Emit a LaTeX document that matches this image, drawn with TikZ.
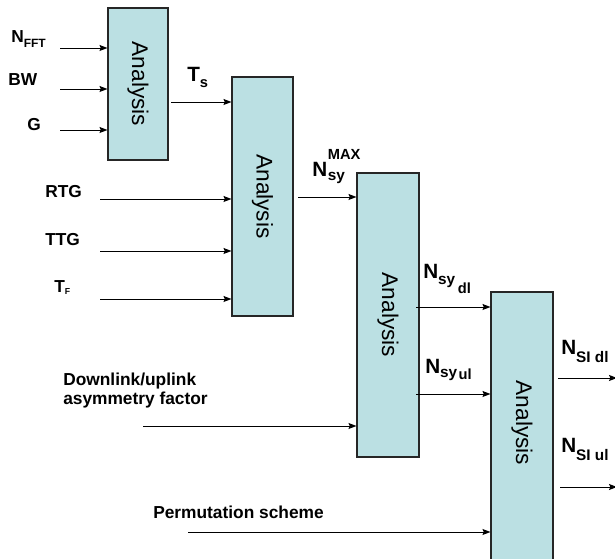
\documentclass[tikz,border=0pt]{standalone}
\usepackage{fontspec}
\setmainfont{Liberation Sans}
\usepackage{xcolor}
\usepackage{tikz}
\usetikzlibrary{arrows.meta, positioning}
\definecolor{boxblue}{RGB}{187,224,227}
\newcommand{\lowsub}[3]{\raisebox{-#1}{\fontsize{#2}{#2}\selectfont #3}}
\tikzstyle{block} = [draw=black!85, fill=boxblue, line width=0.8pt, inner sep=0pt]
\tikzstyle{analysis} = [font=\fontsize{17}{20}\selectfont, rotate=-90, inner sep=0pt]
\tikzstyle{arrow} = [line width=0.7pt, -{Stealth[length=6pt, width=4.5pt, inset=1pt]}]
\tikzstyle{inlbl} = [font=\fontsize{13}{14.25}\selectfont\bfseries, inner sep=0pt, anchor=base west]
\tikzstyle{siglbl} = [font=\fontsize{15.5}{18}\selectfont\bfseries, inner sep=0pt, anchor=base west]

\begin{document}
\begin{tikzpicture}[x=0.75pt, y=-0.75pt]
    \clip (0,0) rectangle (615,559);

    % Analysis blocks
    \node[block, minimum width=45pt, minimum height=114pt, label={[analysis]center:Analysis}] (an1) at (138,84) {};
    \node[block, minimum width=45.75pt, minimum height=179.25pt, label={[analysis]center:Analysis}] (an2) at (262.5,196.5) {};
    \node[block, minimum width=46.5pt, minimum height=213pt, label={[analysis]center:Analysis}] (an3) at (388,315) {};
    \node[block, minimum width=46.5pt, minimum height=231pt] (an4) at (522,446) {};
    \node[analysis] (an4txt) at (522,423) {Analysis};

    % Inputs of the first block
    \node[inlbl] (nfft) at (11,43) {N\lowsub{3.75pt}{9pt}{FFT}};
    \node[inlbl] (bw) at (8,86) {BW};
    \node[inlbl] (g) at (27,131) {G};
    \coordinate (nfftin) at (60,48);
    \coordinate (bwin) at (60,89);
    \coordinate (gin) at (60,130);
    \draw[arrow] (nfftin) -- (nfftin -| an1.west);
    \draw[arrow] (bwin) -- (bwin -| an1.west);
    \draw[arrow] (gin) -- (gin -| an1.west);

    % Inputs of the second block
    \node[siglbl] (ts) at (187,82) {T\lowsub{4.5pt}{11pt}{s}};
    \node[inlbl] (rtg) at (45,198) {RTG};
    \node[inlbl] (ttg) at (45,246) {TTG};
    \node[inlbl] (tf) at (54,293) {T\lowsub{0.8pt}{6.5pt}{F}};
    \coordinate (tsout) at (171,102);
    \coordinate (rtgin) at (100,199);
    \coordinate (ttgin) at (100,251);
    \coordinate (tfin) at (100,299);
    \draw[arrow] (tsout) -- (tsout -| an2.west);
    \draw[arrow] (rtgin) -- (rtgin -| an2.west);
    \draw[arrow] (ttgin) -- (ttgin -| an2.west);
    \draw[arrow] (tfin) -- (tfin -| an2.west);

    % Inputs of the third block
    \node[siglbl] (nsymax) at (312,177) {N\kern0.5pt\rlap{\raisebox{12.75pt}{\fontsize{11}{11}\selectfont MAX}}\lowsub{2.3pt}{11.5pt}{sy}};
    \node[inlbl, anchor=north west, align=left] (asym) at (63,373) {Downlink/uplink\\asymmetry factor};
    \coordinate (nsymaxout) at (298,197);
    \coordinate (asymin) at (143,426);
    \draw[arrow] (nsymaxout) -- (nsymaxout -| an3.west);
    \draw[arrow] (asymin) -- (asymin -| an3.west);

    % Inputs of the fourth block
    \node[siglbl] (nsydl) at (423,279) {N\lowsub{4.5pt}{11.5pt}{sy}\kern2pt\lowsub{11pt}{11pt}{dl}};
    \node[siglbl] (nsyul) at (425,374) {N\lowsub{2.3pt}{11.5pt}{sy}\kern1pt\lowsub{4.5pt}{11pt}{ul}};
    \node[inlbl] (perm) at (153,519) {Permutation scheme};
    \coordinate (nsydlout) at (416,307);
    \coordinate (nsyulout) at (416,394);
    \coordinate (permin) at (188,532);
    \draw[arrow] (nsydlout) -- (nsydlout -| an4.west);
    \draw[arrow] (nsyulout) -- (nsyulout -| an4.west);
    \draw[arrow] (permin) -- (permin -| an4.west);

    % Outputs
    \node[siglbl] (nsidl) at (561,355) {N\lowsub{6pt}{11.5pt}{SI dl}};
    \node[siglbl] (nsiul) at (561,453) {N\lowsub{6pt}{11.5pt}{SI ul}};
    \coordinate (nsidlout) at (558,378);
    \coordinate (nsiulout) at (560,487);
    \coordinate (nsidlend) at (617,378);
    \coordinate (nsiulend) at (617,487);
    \draw[arrow] (nsidlout) -- (nsidlend);
    \draw[arrow] (nsiulout) -- (nsiulend);
\end{tikzpicture}
\end{document}
